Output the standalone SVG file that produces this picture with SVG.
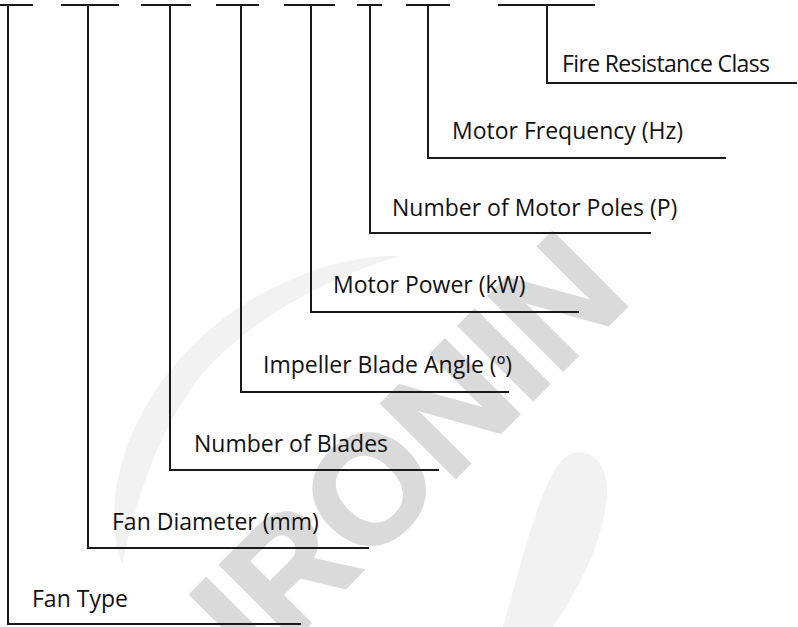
<svg xmlns="http://www.w3.org/2000/svg" width="798" height="627" viewBox="0 0 798 627">
<style>
.ln{stroke:#1a1a1a;stroke-width:2;fill:none;stroke-linecap:square}
.lb{font-family:"Open Sans","Liberation Sans",sans-serif;font-size:23px;fill:#111}
.wm{fill:#f2f2f2}
.wt{font-family:"Liberation Sans",Arial,sans-serif;font-weight:bold;font-size:152px;fill:#dadada;stroke:#dadada;stroke-width:3}
</style>
<rect width="798" height="627" fill="#ffffff"/>
<g id="watermark">
<path class="wm" d="M122 565 C90 470 160 335 290 280 C330 262 370 255 400 256 C330 276 242 322 196 382 C156 436 136 500 122 565 Z"/>
<path class="wm" d="M503 627 C522 560 540 485 562 460 C578 444 607 452 607 492 C605 540 577 592 553 627 Z"/>
<text class="wt" x="408" y="450" text-anchor="middle" dominant-baseline="central" transform="rotate(-45 408 450)">IRONIN</text>
</g>
<g id="connectors">
<line class="ln" x1="0" y1="5" x2="32" y2="5"/>
<line class="ln" x1="62" y1="5" x2="118" y2="5"/>
<line class="ln" x1="142" y1="5" x2="190" y2="5"/>
<line class="ln" x1="217" y1="5" x2="258" y2="5"/>
<line class="ln" x1="285" y1="5" x2="334" y2="5"/>
<line class="ln" x1="358" y1="5" x2="381" y2="5"/>
<line class="ln" x1="407" y1="5" x2="449" y2="5"/>
<line class="ln" x1="499" y1="5" x2="594" y2="5"/>
<polyline class="ln" points="8,5 8,624 300,624"/>
<polyline class="ln" points="88,5 88,548 368,548"/>
<polyline class="ln" points="170,5 170,470 438,470"/>
<polyline class="ln" points="241,5 241,392 508,392"/>
<polyline class="ln" points="311,5 311,312 578,312"/>
<polyline class="ln" points="370,5 370,233 650,233"/>
<polyline class="ln" points="428,5 428,158 725,158"/>
<polyline class="ln" points="547,5 547,83 796,83"/>
</g>
<g id="n1"><text class="lb" x="32" y="607">Fan Type</text></g>
<g id="n2"><text class="lb" x="112" y="530">Fan Diameter (mm)</text></g>
<g id="n3"><text class="lb" x="194" y="452">Number of Blades</text></g>
<g id="n4"><text class="lb" x="263" y="373">Impeller Blade Angle (º)</text></g>
<g id="n5"><text class="lb" x="333" y="293">Motor Power (kW)</text></g>
<g id="n6"><text class="lb" x="392" y="216">Number of Motor Poles (P)</text></g>
<g id="n7"><text class="lb" x="452" y="139">Motor Frequency (Hz)</text></g>
<g id="n8"><text class="lb" x="562" y="72" textLength="208" lengthAdjust="spacing">Fire Resistance Class</text></g>
</svg>
